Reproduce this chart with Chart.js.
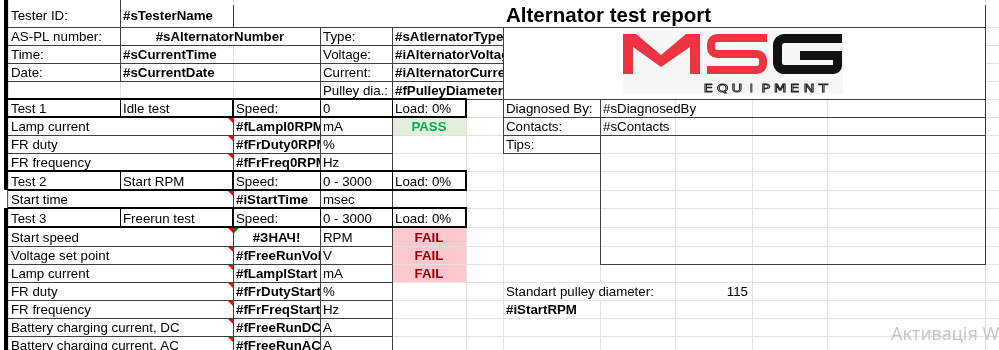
<!DOCTYPE html>
<html>
<head>
<meta charset="utf-8">
<script src="https://cdn.jsdelivr.net/npm/chart.js@4.4.1/dist/chart.umd.min.js"></script>
<style>
html, body { margin: 0; padding: 0; background: #fff; }
#wrap { width: 999px; height: 350px; }
</style>
</head>
<body>
<div id="wrap"><canvas id="sheet" width="999" height="350"></canvas></div>
<script>
// report texts
var reportTitle = 'Alternator test report';
var infoLabels = ['Tester ID:', 'AS-PL number:', 'Time:', 'Date:', ''];
var infoValues = ['#sTesterName', '#sAlternatorNumber', '#sCurrentTime', '#sCurrentDate', ''];
var alternatorLabels = ['Type:', 'Voltage:', 'Current:', 'Pulley dia.:'];
var alternatorValues = ['#sAtlernatorType', '#iAlternatorVoltage', '#iAlternatorCurrent', '#fPulleyDiameter'];

var testNames = ['Test 1', 'Test 2', 'Test 3'];
var testTitles = ['Idle test', 'Start RPM', 'Freerun test'];
var testSpeeds = ['0', '0 - 3000', '0 - 3000'];
var testLoads = ['Load: 0%', 'Load: 0%', 'Load: 0%'];
var speedLabel = 'Speed:';

var paramNames = ['Lamp current', 'FR duty', 'FR frequency', 'Start time', 'Start speed', 'Voltage set point',
	'Lamp current', 'FR duty', 'FR frequency', 'Battery charging current, DC', 'Battery charging current, AC'];
var paramValues = ['#fLampI0RPM', '#fFrDuty0RPM', '#fFrFreq0RPM', '#iStartTime', '#ЗНАЧ!', '#fFreeRunVoltage',
	'#fLampIStart', '#fFrDutyStart', '#fFrFreqStart', '#fFreeRunDC', '#fFreeRunAC'];
var paramUnits = ['mA', '%', 'Hz', 'msec', 'RPM', 'V', 'mA', '%', 'Hz', 'A', 'A'];
var paramStatus = ['PASS', '', '', '', 'FAIL', 'FAIL', 'FAIL', '', '', '', ''];

var reportLabels = ['Diagnosed By:', 'Contacts:', 'Tips:'];
var reportValues = ['#sDiagnosedBy', '#sContacts', ''];
var pulleyLabel = 'Standart pulley diameter:';
var pulleyValue = 115;
var startRpmRef = '#iStartRPM';
var watermark = 'Активація W';

// sheet layout (column / row edges in sheet units)
var colEdges = [8, 120, 233, 320, 392, 466, 503, 600, 675, 752, 827, 985, 1000];
var rowEdges = [0, 27, 45, 63, 81, 99, 117, 135, 153, 171, 190, 208, 227, 246, 264, 282, 300, 318, 336, 354];
var testRows = [5, 9, 11];
var paramRows = [6, 7, 8, 10, 12, 13, 14, 15, 16, 17, 18];

var GRID = '#e2e2e2';
var DARK = '#404040';
var FONT = '"Liberation Sans", Arial, sans-serif';

var sheetPlugin = {
	id: 'sheet',
	afterDraw: function(chart) {
		var ctx = chart.ctx;
		var sx = chart.scales.x, sy = chart.scales.y;
		var X = function(i) { return Math.round(sx.getPixelForValue(colEdges[i])); };
		var Y = function(i) { return Math.round(sy.getPixelForValue(rowEdges[i])); };
		var W = chart.width, H = chart.height;

		function hline(x0, x1, y, w, c) { ctx.fillStyle = c; ctx.fillRect(x0, y - Math.floor(w / 2), x1 - x0 + 1, w); }
		function vline(x, y0, y1, w, c) { ctx.fillStyle = c; ctx.fillRect(x - Math.floor(w / 2), y0, w, y1 - y0 + 1); }
		function fillCell(c0, c1, r0, r1, color) {
			ctx.fillStyle = color;
			ctx.fillRect(X(c0) + 1, Y(r0) + 1, X(c1) - X(c0) - 1, Y(r1) - Y(r0) - 1);
		}
		function text(str, c0, c1, r, o) {
			o = o || {};
			if (str === '' || str === undefined) return;
			var x0 = X(c0), x1 = X(c1), y0 = Y(r), y1 = Y(r + 1);
			ctx.save();
			ctx.beginPath();
			ctx.rect(x0 + 1, y0, x1 - x0 - 1, y1 - y0);
			ctx.clip();
			ctx.font = (o.bold ? 'bold ' : '') + (o.size || 13.3) + 'px ' + FONT;
			ctx.fillStyle = o.color || '#000';
			ctx.textBaseline = 'alphabetic';
			var x = x0 + 3;
			ctx.textAlign = 'left';
			if (o.align === 'center') { ctx.textAlign = 'center'; x = (x0 + x1) / 2; }
			if (o.align === 'right') { ctx.textAlign = 'right'; x = x1 - 4; }
			ctx.fillText(String(str), x, o.baseline !== undefined ? o.baseline : y1 - 4);
			ctx.restore();
		}

		ctx.save();
		ctx.fillStyle = '#fff';
		ctx.fillRect(0, 0, W, H);

		// light gridlines
		for (var i = 0; i < colEdges.length; i++) vline(X(i), 0, H, 1, GRID);
		for (var r = 1; r < rowEdges.length; r++) hline(X(0), W, Y(r), 1, GRID);

		// merged / overflow areas
		ctx.fillStyle = '#fff';
		ctx.fillRect(X(2) + 1, 0, X(11) - X(2) - 1, Y(1));
		fillCell(1, 3, 1, 2, '#fff');
		for (r = 1; r < 5; r++) fillCell(4, 6, r, r + 1, '#fff');
		fillCell(6, 11, 1, 5, '#fff');
		paramRows.forEach(function(pr) { fillCell(0, 2, pr, pr + 1, '#fff'); });
		fillCell(6, 8, 15, 16, '#fff');

		// status fills
		paramRows.forEach(function(pr, k) {
			if (paramStatus[k] === 'PASS') fillCell(4, 5, pr, pr + 1, '#e2efda');
			if (paramStatus[k] === 'FAIL') fillCell(4, 5, pr, pr + 1, '#ffc7ce');
		});

		// header borders
		hline(X(0), X(11), Y(1), 1, DARK);
		for (r = 2; r <= 5; r++) hline(X(0), X(6), Y(r), 1, DARK);
		vline(X(1), 0, Y(4), 1, DARK);
		vline(X(2), 5, Y(1), 1, DARK);
		vline(X(3), Y(1), Y(5), 1, DARK);
		vline(X(4), Y(1), Y(5), 1, DARK);
		vline(X(6), Y(1), Y(5), 1, DARK);
		hline(X(6), X(11), Y(5), 1, DARK);
		vline(X(11), 5, Y(14), 1, DARK);

		// parameter rows
		paramRows.forEach(function(pr) {
			hline(X(0), X(4), Y(pr), 1, DARK);
			hline(X(0), X(4), Y(pr + 1), 1, DARK);
			vline(X(2), Y(pr), Y(pr + 1), 1, DARK);
			vline(X(3), Y(pr), Y(pr + 1), 1, DARK);
			vline(X(4), Y(pr), Y(pr + 1), 1, DARK);
		});

		// test header rows (thick box)
		testRows.forEach(function(tr) {
			hline(X(0), X(5), Y(tr), 2, '#000');
			hline(X(0), X(5), Y(tr + 1), 2, '#000');
			vline(X(5), Y(tr), Y(tr + 1), 2, '#000');
			vline(X(1), Y(tr), Y(tr + 1), 1, '#000');
			vline(X(2), Y(tr), Y(tr + 1), 2, '#000');
			vline(X(3), Y(tr), Y(tr + 1), 1, '#000');
			vline(X(4), Y(tr), Y(tr + 1), 1, '#000');
		});

		// diagnosed by / contacts / tips boxes
		hline(X(6), X(11), Y(6), 1, DARK);
		hline(X(6), X(11), Y(7), 1, DARK);
		hline(X(6), X(7), Y(8), 1, DARK);
		vline(X(6), Y(5), Y(8), 1, DARK);
		vline(X(7), Y(5), Y(14), 1, DARK);
		hline(X(7), X(11), Y(14), 1, DARK);

		// left edge bar
		ctx.fillStyle = '#000';
		ctx.fillRect(4, 0, 4, Y(10));
		ctx.fillRect(4, Y(11), 4, H - Y(11));
		ctx.fillStyle = '#217346';
		ctx.fillRect(7, Y(10), 1, Y(11) - Y(10));

		// texts: header block
		for (r = 0; r < 5; r++) {
			var bl = r === 0 ? 20 : undefined;
			text(infoLabels[r], 0, 1, r, { baseline: bl });
			if (r === 1) text(infoValues[r], 1, 3, r, { bold: true, align: 'center' });
			else text(infoValues[r], 1, 3, r, { bold: true, baseline: bl });
			if (r > 0) {
				text(alternatorLabels[r - 1], 3, 4, r);
				text(alternatorValues[r - 1], 4, 6, r, { bold: true });
			}
		}
		text(reportTitle, 6, 11, 0, { bold: true, size: 20.5, baseline: 22 });

		// test header texts
		testRows.forEach(function(tr, k) {
			text(testNames[k], 0, 1, tr);
			text(testTitles[k], 1, 2, tr);
			text(speedLabel, 2, 3, tr);
			text(testSpeeds[k], 3, 4, tr);
			text(testLoads[k], 4, 5, tr);
		});

		// parameter texts
		paramRows.forEach(function(pr, k) {
			var isErr = /^#.*!$/.test(paramValues[k]);
			text(paramNames[k], 0, 2, pr);
			text(paramValues[k], 2, 3, pr, { bold: true, align: isErr ? 'center' : 'left' });
			text(paramUnits[k], 3, 4, pr);
			if (paramStatus[k]) {
				text(paramStatus[k], 4, 5, pr, {
					bold: true, align: 'center',
					color: paramStatus[k] === 'PASS' ? '#00b050' : '#9c0006'
				});
			}
		});

		// side texts
		reportLabels.forEach(function(lbl, k) {
			text(lbl, 6, 7, 5 + k);
			text(reportValues[k], 7, 11, 5 + k);
		});
		text(pulleyLabel, 6, 8, 15);
		text(pulleyValue, 8, 9, 15, { align: 'right' });
		text(startRpmRef, 6, 7, 16, { bold: true });

		// comment markers
		ctx.fillStyle = '#ff0000';
		paramRows.forEach(function(pr) {
			var xr = X(2), yt = Y(pr) + 1;
			ctx.beginPath();
			ctx.moveTo(xr - 5, yt); ctx.lineTo(xr, yt); ctx.lineTo(xr, yt + 5);
			ctx.closePath(); ctx.fill();
		});
		paramRows.forEach(function(pr, k) {
			if (!/^#.*!$/.test(paramValues[k])) return;
			var xl = X(2) + 1, yt = Y(pr) + 1;
			ctx.fillStyle = '#008000';
			ctx.beginPath();
			ctx.moveTo(xl, yt); ctx.lineTo(xl + 5, yt); ctx.lineTo(xl, yt + 5);
			ctx.closePath(); ctx.fill();
		});

		// logo
		var lx = X(6) + 120, ly = Y(1) + 7;
		ctx.fillStyle = '#f7f7f7';
		ctx.fillRect(lx, ly - 3, 220, 63);
		ctx.fillStyle = '#ee3443';
		ctx.beginPath();
		ctx.moveTo(lx, ly + 40); ctx.lineTo(lx, ly); ctx.lineTo(lx + 13, ly);
		ctx.lineTo(lx + 38, ly + 21); ctx.lineTo(lx + 63, ly); ctx.lineTo(lx + 77, ly);
		ctx.lineTo(lx + 77, ly + 40); ctx.lineTo(lx + 67, ly + 40); ctx.lineTo(lx + 67, ly + 13);
		ctx.lineTo(lx + 38, ly + 33); ctx.lineTo(lx + 10, ly + 13); ctx.lineTo(lx + 10, ly + 40);
		ctx.closePath(); ctx.fill();

		ctx.strokeStyle = '#ee3443';
		ctx.lineWidth = 8;
		ctx.lineCap = 'butt';
		ctx.beginPath();
		ctx.moveTo(lx + 144, ly + 4);
		ctx.arcTo(lx + 88, ly + 4, lx + 88, ly + 20, 6);
		ctx.arcTo(lx + 88, ly + 20, lx + 140, ly + 20, 6);
		ctx.arcTo(lx + 140, ly + 20, lx + 140, ly + 36, 6);
		ctx.arcTo(lx + 140, ly + 36, lx + 84, ly + 36, 6);
		ctx.lineTo(lx + 84, ly + 36);
		ctx.stroke();

		ctx.strokeStyle = '#111';
		ctx.lineWidth = 9;
		ctx.lineJoin = 'miter';
		ctx.beginPath();
		ctx.moveTo(lx + 219, ly + 4.5);
		ctx.arcTo(lx + 154.5, ly + 4.5, lx + 154.5, ly + 35.5, 7);
		ctx.arcTo(lx + 154.5, ly + 35.5, lx + 214.5, ly + 35.5, 7);
		ctx.arcTo(lx + 214.5, ly + 35.5, lx + 214.5, ly + 21, 4);
		ctx.lineTo(lx + 214.5, ly + 21.5);
		ctx.lineTo(lx + 177, ly + 21.5);
		ctx.stroke();

		ctx.strokeStyle = '#222';
		ctx.lineWidth = 0.8;
		ctx.font = '11px "DejaVu Sans"';
		ctx.textAlign = 'center';
		var eq = 'EQUIPMENT';
		for (i = 0; i < eq.length; i++) {
			ctx.save();
			ctx.translate(lx + 78 + 7.2 + i * 14.4, ly + 58);
			ctx.scale(eq[i] === 'I' ? 1 : 1.35, 1);
			ctx.strokeText(eq[i], 0, 0);
			ctx.restore();
		}
		ctx.textAlign = 'left';

		// watermark
		ctx.fillStyle = '#c8c8c8';
		ctx.font = '18px "Noto Sans", sans-serif';
		ctx.fillText(watermark, 891, 340);
		ctx.restore();
	}
};

var chartCtx = document.getElementById('sheet').getContext('2d');
window.reportSheet = new Chart(chartCtx, {
	type: 'scatter',
	data: { datasets: [] },
	options: {
		responsive: false,
		animation: false,
		devicePixelRatio: 1,
		events: [],
		layout: { padding: 0 },
		plugins: { legend: { display: false }, tooltip: { enabled: false }, title: { display: false } },
		scales: {
			x: { type: 'linear', min: 0, max: 999, display: false },
			y: { type: 'linear', min: 0, max: 350, reverse: true, display: false }
		}
	},
	plugins: [sheetPlugin]
});
</script>
</body>
</html>
